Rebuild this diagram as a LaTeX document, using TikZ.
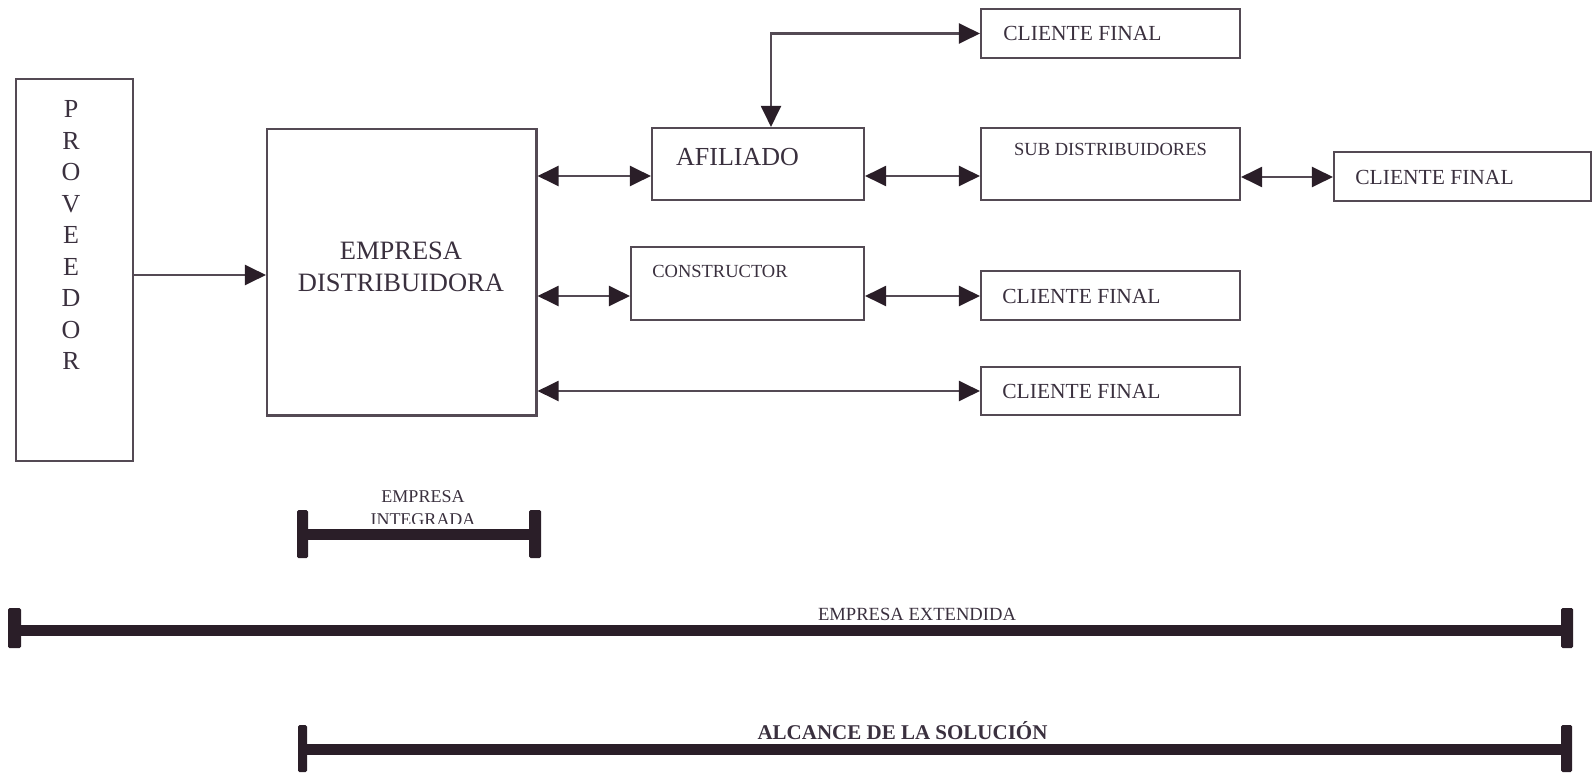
\documentclass[tikz,border=0pt]{standalone}
\usepackage{fontspec}
\setmainfont{Liberation Serif}
\usetikzlibrary{arrows.meta}
\definecolor{ink}{RGB}{58,48,62}
\definecolor{edgec}{RGB}{84,74,84}
\definecolor{barc}{RGB}{42,30,40}
\begin{document}
\begin{tikzpicture}[x=1pt,y=-1pt,
  box/.style={draw=edgec,line width=2.1pt,rectangle,inner sep=0pt},
  lbl/.style={text=ink,inner sep=0pt,anchor=base},
  link/.style={draw=edgec,line width=2.1pt},
  tip/.tip={Triangle[length=21pt,width=20pt,color=barc]},
  both/.style={link,tip-tip},
  one/.style={link,-tip},
  barline/.style={draw=barc,line width=11pt},
  barcap/.style={fill=barc,rounded corners=1.5pt}]
\useasboundingbox (0,0) rectangle (1593,773);

% boxes
\node[box,minimum width=117pt,minimum height=382pt] (prov) at (74.5,270) {};
\node[box,minimum width=269.5pt,minimum height=286.5pt] (emp) at (401.75,272.25) {};
\node[box,minimum width=212pt,minimum height=72pt] (afil) at (758,164) {};
\node[box,minimum width=233pt,minimum height=73pt] (cons) at (747.5,283.5) {};
\node[box,minimum width=259pt,minimum height=49pt] (cf1) at (1110.5,33.5) {};
\node[box,minimum width=259pt,minimum height=72pt] (sub) at (1110.5,164) {};
\node[box,minimum width=257pt,minimum height=49pt] (cf2) at (1462.5,176.5) {};
\node[box,minimum width=259pt,minimum height=49pt] (cf3) at (1110.5,295.5) {};
\node[box,minimum width=259pt,minimum height=48.5pt] (cf4) at (1110.5,391) {};

% texts
\node[text=ink,inner sep=0pt,align=center,font=\fontsize{26}{31.5}\selectfont] (tprov) at (71,235) {P\\R\\O\\V\\E\\E\\D\\O\\R};
\node[text=ink,inner sep=0pt,align=center,font=\fontsize{26.5}{32.5}\selectfont] (temp) at (401,267) {EMPRESA\\DISTRIBUIDORA};
\node[lbl,font=\fontsize{26}{30}\selectfont] (tafil) at (737.5,165) {AFILIADO};
\node[lbl,font=\fontsize{18.5}{22}\selectfont] (tcons) at (720,277) {CONSTRUCTOR};
\node[lbl,font=\fontsize{18.5}{22}\selectfont] (tsub) at (1110.5,156) {SUB DISTRIBUIDORES};
\node[lbl,font=\fontsize{21.5}{26}\selectfont] (tcf1) at (1082.5,40.6) {CLIENTE FINAL};
\node[lbl,font=\fontsize{21.5}{26}\selectfont] (tcf2) at (1434.5,184) {CLIENTE FINAL};
\node[lbl,font=\fontsize{21.5}{26}\selectfont] (tcf3) at (1081.5,303.5) {CLIENTE FINAL};
\node[lbl,font=\fontsize{21.5}{26}\selectfont] (tcf4) at (1081.5,398.5) {CLIENTE FINAL};

% connector levels
\coordinate (rp) at (0,275);
\coordinate (ra) at (0,176);
\coordinate (rb) at (0,296);
\coordinate (rc) at (0,391);
\coordinate (rs) at (0,177);
\coordinate (elb) at (771,33.5);

\draw[one] (prov.east |- rp) -- (emp.west |- rp);
\draw[both] (emp.east |- ra) -- (afil.west |- ra);
\draw[both] (emp.east |- rb) -- (cons.west |- rb);
\draw[both] (emp.east |- rc) -- (cf4.west |- rc);
\draw[both] (afil.east |- ra) -- (sub.west |- ra);
\draw[both] (cons.east |- rb) -- (cf3.west |- rb);
\draw[both] (sub.east |- rs) -- (cf2.west |- rs);
\draw[both] (afil.north -| elb) -- (elb) -- (cf1.west);

% bars
\node[lbl,font=\fontsize{18}{22}\selectfont] (tint1) at (423,502) {EMPRESA};
\begin{scope}
\clip (330,505) rectangle (520,523.5);
\node[lbl,font=\fontsize{18}{22}\selectfont] (tint2) at (423,525) {INTEGRADA};
\end{scope}
\draw[barline] (308,534.5) -- (529,534.5);
\fill[barcap] (297,510) rectangle (308,558);
\fill[barcap] (529,510) rectangle (541,558);

\node[lbl,font=\fontsize{18.6}{22}\selectfont] (text) at (917,620) {EMPRESA EXTENDIDA};
\draw[barline] (21,630) -- (1561,630);
\fill[barcap] (8,608) rectangle (21,648);
\fill[barcap] (1561,608) rectangle (1573,648);

\node[lbl,font=\fontsize{21}{25}\selectfont\bfseries] (talc) at (902.5,739.6) {ALCANCE DE LA SOLUCIÓN};
\draw[barline] (307,749) -- (1561,749);
\fill[barcap] (298,725) rectangle (307,772);
\fill[barcap] (1561,725) rectangle (1572,772);
\end{tikzpicture}
\end{document}
